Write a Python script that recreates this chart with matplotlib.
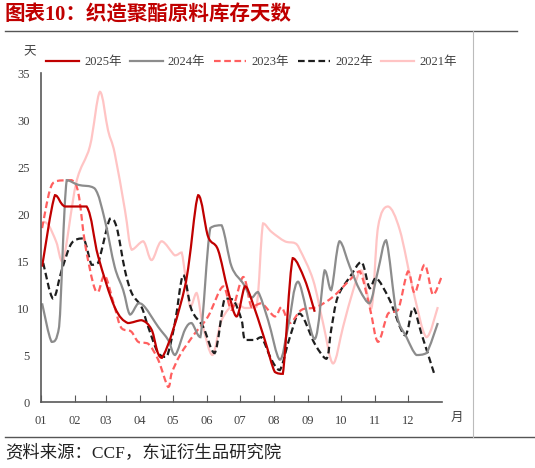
import numpy as np
import matplotlib.pyplot as plt
from matplotlib.path import Path
from matplotlib.patches import PathPatch
from matplotlib.lines import Line2D

plt.rcParams['font.family'] = ['Liberation Serif', 'Noto Sans CJK SC']

# day of year -> inventory days
x2025 = [1, 12.7, 21.8, 41.5, 52, 67, 79, 91.5, 100.6, 110, 131, 143, 152, 161, 170, 178, 185.5, 191.5, 203.6, 212.7, 220, 229, 240, 249]
y2025 = [14.4, 22.0, 20.8, 20.8, 15.5, 10.1, 8.4, 8.7, 7.7, 4.7, 12.3, 22.0, 17.6, 16.2, 11.9, 9.1, 12.3, 10.9, 6.6, 3.2, 3.0, 15.3, 13.0, 9.6]

x2024 = [1, 9.7, 16.5, 23.4, 34, 49, 58, 67, 74.8, 81, 88.5, 94.5, 106.6, 115.7, 122, 131, 137, 145, 154, 164.3, 173.4, 184, 191.5, 197.5, 206.6, 217.3, 224.8, 233.9, 249, 258, 264, 271.5, 280.9, 290, 299, 306.6, 314, 323.4, 332.5, 341.5, 350.6, 361]
y2024 = [10.5, 6.4, 8.0, 23.6, 23.1, 22.7, 19.4, 14.4, 11.9, 9.3, 10.5, 10.1, 8.0, 6.6, 5.0, 7.7, 8.4, 6.9, 18.5, 18.8, 14.4, 12.6, 11.1, 11.7, 8.7, 4.5, 8.0, 12.8, 6.7, 14.0, 11.9, 17.1, 14.4, 11.9, 10.5, 14.0, 17.2, 9.4, 6.9, 5.0, 5.2, 8.4]

x2023 = [1, 8, 14, 27.9, 34, 40, 47.5, 52, 58, 67, 73, 82, 88.5, 97.5, 106.6, 115.7, 119, 127, 140, 152, 165.7, 173.4, 184, 191.5, 200.6, 212.7, 218.8, 226.4, 237, 250.6, 265.7, 281, 290, 299, 306.6, 315.7, 324.8, 333.9, 340, 349, 356.6, 364]
y2023 = [18.5, 22.5, 23.5, 23.6, 22.2, 16.9, 12.6, 11.7, 13.5, 10.1, 7.9, 7.5, 6.4, 6.2, 4.5, 1.6, 3.1, 5.1, 7.3, 9.1, 12.3, 9.8, 13.3, 10.1, 10.5, 9.1, 10.1, 8.4, 9.8, 10.1, 11.2, 13.0, 13.9, 10.1, 6.4, 9.4, 9.8, 13.9, 11.6, 14.6, 11.4, 13.2]

x2022 = [2, 11, 18.8, 27.9, 38.5, 46, 52, 62.7, 68.8, 76.4, 82.5, 91.5, 97.5, 106.6, 114.3, 121.8, 129.4, 137, 147.5, 158, 167, 174.8, 182.5, 185.5, 194.5, 200.6, 209.7, 217.3, 226.4, 235.5, 249, 259.7, 264, 270, 281, 291.5, 299, 305, 317, 331, 338.5, 346, 358]
y2022 = [14.8, 11.0, 14.0, 16.9, 17.4, 14.6, 14.8, 19.5, 18.6, 14.0, 11.6, 10.1, 8.0, 5.2, 4.8, 8.4, 13.5, 9.8, 8.0, 5.2, 11.0, 10.9, 8.7, 6.6, 6.6, 6.9, 4.5, 3.4, 6.9, 9.4, 6.2, 4.6, 7.7, 11.2, 13.3, 14.9, 12.1, 13.2, 10.9, 7.1, 10.0, 7.3, 2.9]

x2021 = [2, 7, 14, 20, 32, 44.5, 53.6, 61, 67, 76.4, 82.5, 93, 100.6, 109.7, 121.8, 128, 135.6, 141.6, 147.5, 156, 164.3, 176.4, 185.5, 196, 202, 209.7, 221.8, 230.9, 235.5, 247.5, 256.6, 265.7, 274.8, 284, 291.5, 300.6, 306.6, 315.7, 326.4, 338.5, 350.6, 361]
y2021 = [19.2, 18.8, 17.0, 14.9, 23.3, 27.2, 33.0, 28.9, 26.5, 20.4, 16.2, 17.1, 15.1, 17.1, 15.6, 15.9, 10.1, 11.6, 8.0, 5.0, 8.7, 10.5, 10.0, 10.1, 19.0, 18.1, 17.1, 16.9, 16.2, 13.0, 8.4, 4.1, 8.0, 11.9, 14.0, 10.0, 18.6, 20.8, 18.3, 11.9, 6.9, 10.1]

month_days = [0, 31, 59, 90, 120, 151, 181, 212, 243, 273, 304, 334]
month_labels = ['01', '02', '03', '04', '05', '06', '07', '08', '09', '10', '11', '12']


def smooth_path(xs, ys):
    # smoothed line: Catmull-Rom segments as cubic beziers, no overshoot
    p = np.column_stack([xs, ys]).astype(float)
    verts = [p[0]]
    codes = [Path.MOVETO]
    n = len(p)
    for i in range(n - 1):
        p0 = p[i - 1] if i > 0 else p[i]
        p1 = p[i]
        p2 = p[i + 1]
        p3 = p[i + 2] if i + 2 < n else p[i + 1]
        c1 = p1 + (p2 - p0) / 6
        c2 = p2 - (p3 - p1) / 6
        lo, hi = min(p1[1], p2[1]), max(p1[1], p2[1])
        c1[1] = np.clip(c1[1], lo, hi)
        c2[1] = np.clip(c2[1], lo, hi)
        verts += [c1, c2, p2]
        codes += [Path.CURVE4] * 3
    return Path(verts, codes)


series = [
    ('2025年', x2025, y2025, '#C00000', '-'),
    ('2024年', x2024, y2024, '#8C8C8C', '-'),
    ('2023年', x2023, y2023, '#FF5F5F', (0, (3, 1.6))),
    ('2022年', x2022, y2022, '#1E1E1E', (0, (3, 1.6))),
    ('2021年', x2021, y2021, '#FFC4C4', '-'),
]

fig = plt.figure(figsize=(5.35, 4.68), dpi=100)
ax = fig.add_axes([0.0766, 0.141, 0.75, 0.703])

handles = []
for name, xs, ys, col, ls in series[::-1]:
    ax.add_patch(PathPatch(smooth_path(xs, ys), fill=False, edgecolor=col,
                           linewidth=1.6, linestyle=ls, capstyle='butt'))
for name, xs, ys, col, ls in series:
    handles.append(Line2D([], [], color=col, linewidth=1.6, linestyle=ls))

ax.set_xlim(0, 365)
ax.set_ylim(0, 35)
ax.set_yticks(range(0, 36, 5))
ax.set_xticks(month_days)
ax.set_xticklabels(month_labels)
for s in ['top', 'right']:
    ax.spines[s].set_visible(False)
ax.spines['left'].set_color('#595959')
ax.spines['bottom'].set_color('#595959')
ax.spines['left'].set_linewidth(1.2)
ax.spines['bottom'].set_linewidth(1.2)
ax.tick_params(axis='x', direction='in', length=5, color='#595959', pad=9, labelsize=9, labelcolor='#404040')
ax.tick_params(axis='y', length=0, pad=8, labelsize=9, labelcolor='#404040')

fig.legend(handles, [s[0] for s in series], loc='center', ncol=5,
           bbox_to_anchor=(0.47, 1 - 62 / 468), frameon=False, fontsize=9,
           handlelength=2.6, handletextpad=0.4, columnspacing=0.7, labelcolor='#404040')

fig.text(30 / 535, 1 - 52 / 468, '天', fontsize=9, ha='center', va='center', color='#404040')
fig.text(457 / 535, 1 - 418 / 468, '月', fontsize=9, ha='center', va='center', color='#404040')

fig.text(5 / 535, 1 - 16 / 468, '图表10：织造聚酯原料库存天数', fontsize=14.8, fontweight='bold',
         color='#C00000', ha='left', va='center')
fig.text(5 / 535, 1 - 453 / 468, '资料来源：CCF，东证衍生品研究院', fontsize=12.5,
         color='#222222', ha='left', va='center')

fig.add_artist(Line2D([5 / 535, 517 / 535], [1 - 31 / 468] * 2, color='#555555', linewidth=1.0))
fig.add_artist(Line2D([5 / 535, 535 / 535], [1 - 437 / 468] * 2, color='#555555', linewidth=1.0))
fig.add_artist(Line2D([473 / 535] * 2, [1 - 31 / 468, 1 - 437 / 468], color='#BBBBBB', linewidth=0.8))

fig.savefig('out.png', dpi=100)
